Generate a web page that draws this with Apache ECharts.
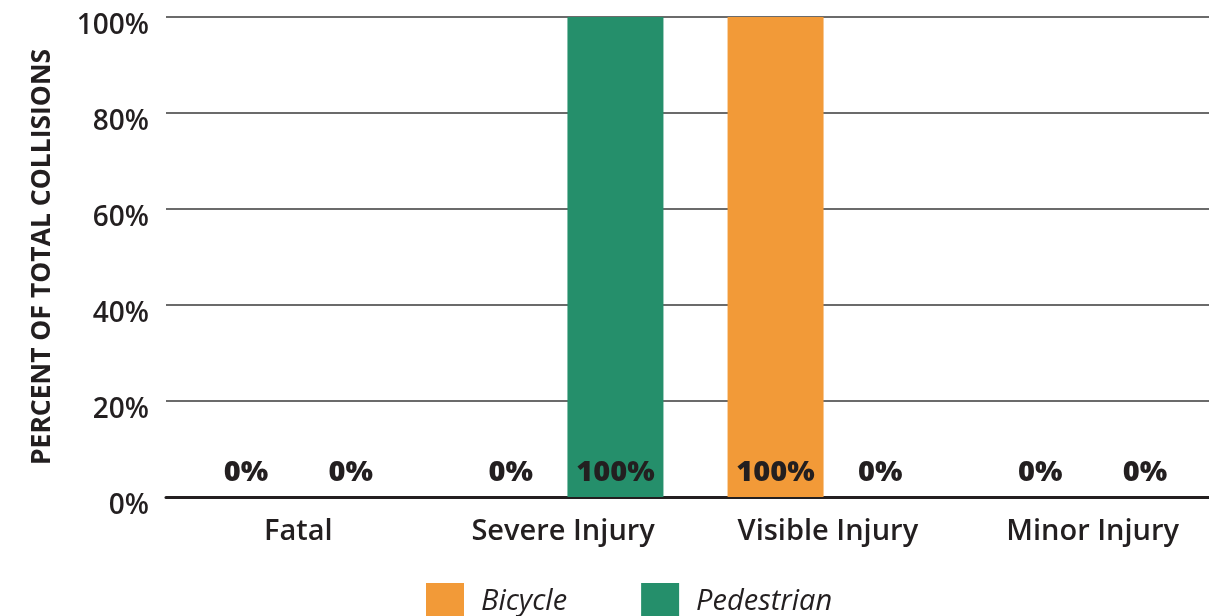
<!DOCTYPE html>
<html>
<head>
<meta charset="utf-8">
<script src="https://cdn.jsdelivr.net/npm/echarts@6/dist/echarts.min.js"></script>
<style>html,body{margin:0;padding:0;background:#fff}#c{width:1209px;height:616px}</style>
</head>
<body>
<div id="c"></div>
<script>
const categories = ['Fatal', 'Severe Injury', 'Visible Injury', 'Minor Injury'];
const bicycle = [0, 0, 100, 0];
const pedestrian = [0, 100, 0, 0];
const yTicks = [0, 20, 40, 60, 80, 100];

const FONT = '"Open Sans", "DejaVu Sans", sans-serif';
const chart = echarts.init(document.getElementById('c'), null, {renderer: 'canvas'});
const lbl = {
  show: true, position: 'insideBottom', distance: 10,
  formatter: p => p.value + '%',
  fontFamily: FONT, fontSize: 29, fontWeight: 800, color: '#231f20'
};
chart.setOption({
  animation: false,
  grid: {left: 166, width: 1059, top: 17, bottom: 119, containLabel: false, outerBoundsMode: 'none'},
  legend: {
    top: 578, left: 421, itemWidth: 38, itemHeight: 38, itemGap: 74,
    icon: 'rect',
    textStyle: {fontFamily: FONT, fontSize: 29, fontStyle: 'italic', color: '#231f20', padding: [0, 0, 0, 12]},
    data: ['Bicycle', 'Pedestrian']
  },
  xAxis: {
    type: 'category', data: categories,
    axisLine: {lineStyle: {color: '#231f20', width: 3}},
    axisTick: {show: false},
    axisLabel: {fontFamily: FONT, fontSize: 29, fontWeight: 600, color: '#231f20', margin: 20}
  },
  yAxis: {
    type: 'value', min: 0, max: 100, interval: 20,
    name: 'PERCENT OF TOTAL COLLISIONS', nameLocation: 'middle', nameGap: 110,
    nameTextStyle: {fontFamily: FONT, fontSize: 26.5, fontWeight: 'bold', color: '#231f20'},
    axisLine: {show: false}, axisTick: {show: false},
    axisLabel: {fontFamily: FONT, fontSize: 28, fontWeight: 600, color: '#231f20', margin: 17,
      verticalAlign: 'top', lineHeight: 18,
      formatter: v => yTicks.includes(v) ? v + '%' : ''},
    splitLine: {lineStyle: {color: '#3a3a3a', width: 1.5}}
  },
  series: [
    {name: 'Bicycle', type: 'bar', data: bicycle, barWidth: 96, barGap: '9%',
      itemStyle: {color: '#F29A38'}, label: lbl},
    {name: 'Pedestrian', type: 'bar', data: pedestrian, barWidth: 96,
      itemStyle: {color: '#258F6B'}, label: lbl}
  ]
});
</script>
</body>
</html>
